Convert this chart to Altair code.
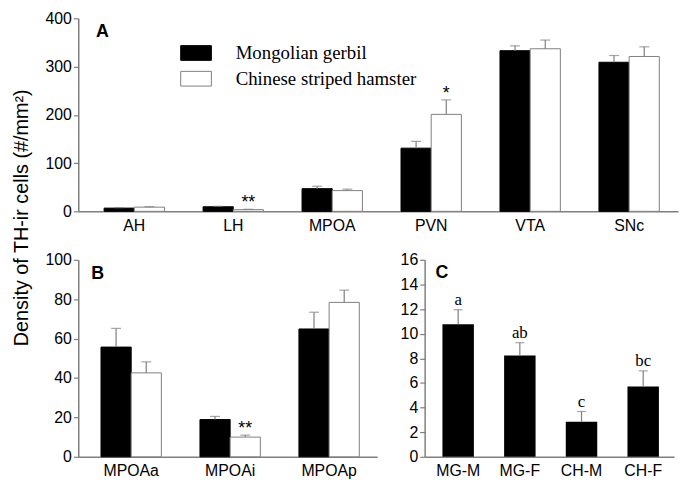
import altair as alt
import pandas as pd

SANS = "Liberation Sans"
SERIF = "Liberation Serif"
GREY = "#7f7f7f"

species = ["Mongolian gerbil", "Chinese striped hamster"]

# Panel A
regions = ["AH", "LH", "MPOA", "PVN", "VTA", "SNc"]
a_gerbil = [6.7, 9.5, 47, 131, 333, 309]
a_gerbil_err = [1.0, 1.0, 5, 14, 10, 14]
a_hamster = [8.7, 3.5, 43, 201, 337, 321]
a_hamster_err = [1.0, 0.8, 3, 30, 18, 20]
a_hamster_sig = ["", "**", "", "*", "", ""]
a_ticks = [0, 100, 200, 300, 400]

# Panel B
subregions = ["MPOAa", "MPOAi", "MPOAp"]
b_gerbil = [55.7, 18.9, 64.9]
b_gerbil_err = [9.5, 1.6, 8.5]
b_hamster = [42.6, 10.0, 78.4]
b_hamster_err = [5.6, 1.0, 6.2]
b_hamster_sig = ["", "**", ""]
b_ticks = [0, 20, 40, 60, 80, 100]

# Panel C
groups = ["MG-M", "MG-F", "CH-M", "CH-F"]
c_values = [10.77, 8.22, 2.84, 5.72]
c_err = [1.18, 1.05, 0.84, 1.26]
c_letters = ["a", "ab", "c", "bc"]
c_ticks = [0, 2, 4, 6, 8, 10, 12, 14, 16]

Y_TITLE = "Density of TH-ir cells (#/mm\u00b2)"


def make_df(cats, g, ge, h, he, hs):
    rows = []
    for i, c in enumerate(cats):
        rows.append(dict(cat=c, species=species[0], value=g[i], upper=g[i] + ge[i], sig=""))
        rows.append(dict(cat=c, species=species[1], value=h[i], upper=h[i] + he[i], sig=hs[i]))
    return pd.DataFrame(rows)


def x_axis():
    return alt.Axis(labelAngle=0, ticks=False, labelPadding=6, domainColor=GREY,
                    domainWidth=1.5, labelFontSize=16, labelFont=SANS,
                    labelColor="black", title=None, grid=False)


def y_axis(ticks, ext):
    return alt.Axis(values=ticks, title=None, grid=False, domainColor=GREY,
                    domainWidth=1.5, tickColor=GREY, tickWidth=1.2, tickSize=5,
                    labelPadding=2, labelFontSize=16, labelFont=SANS,
                    labelColor="black", labelOverlap=False, labelSeparation=0,
                    minExtent=ext, maxExtent=ext)


def letter(txt, px, py):
    return alt.Chart(pd.DataFrame({"t": [txt]})).mark_text(
        align="left", baseline="middle", fontWeight="bold", fontSize=18,
        font=SANS, color="black").encode(x=alt.value(px), y=alt.value(py), text="t:N")


def grouped(df, cats, ticks, width, height, pi, po, align, ext, lettertxt, lx, ly, legend):
    x = alt.X("cat:N", sort=cats, scale=alt.Scale(paddingInner=pi, paddingOuter=po, align=align), axis=x_axis())
    xo = alt.XOffset("species:N", sort=species, scale=alt.Scale(paddingInner=0, paddingOuter=0))
    yscale = alt.Scale(domain=[ticks[0], ticks[-1]], nice=False)
    yax = y_axis(ticks, ext)
    if legend:
        leg = alt.Legend(orient="none", legendX=103, legendY=19, title=None,
                         symbolType="M-1,-0.48H1V0.48H-1Z", symbolSize=961,
                         symbolStrokeColor=GREY, symbolStrokeWidth=1, symbolOpacity=1,
                         labelFont=SERIF, labelFontSize=19, labelOffset=24,
                         labelColor="black", rowPadding=-7, padding=0, labelLimit=400)
    else:
        leg = None
    fill = alt.Fill("species:N", sort=species,
                    scale=alt.Scale(domain=species, range=["black", "white"]), legend=leg)
    stroke = alt.Stroke("species:N", sort=species,
                        scale=alt.Scale(domain=species, range=["black", GREY]), legend=None)
    base = alt.Chart(df)
    bars = base.mark_bar(strokeWidth=1).encode(
        x=x, xOffset=xo, y=alt.Y("value:Q", scale=yscale, axis=yax), fill=fill, stroke=stroke)
    rules = base.mark_rule(color=GREY, strokeWidth=1.2).encode(
        x=x, xOffset=xo, y=alt.Y("value:Q", scale=yscale, axis=yax), y2="upper:Q")
    caps = base.mark_tick(color=GREY, size=10, thickness=1.2, orient="horizontal").encode(
        x=x, xOffset=xo, y=alt.Y("upper:Q", scale=yscale, axis=yax))
    sig = base.mark_text(font=SANS, fontSize=18, baseline="alphabetic", dy=-1, color="black").encode(
        x=x, xOffset=xo, y=alt.Y("upper:Q", scale=yscale, axis=yax), text="sig:N")
    return alt.layer(bars, rules, caps, sig, letter(lettertxt, lx, ly)).properties(width=width, height=height)


dfa = make_df(regions, a_gerbil, a_gerbil_err, a_hamster, a_hamster_err, a_hamster_sig)
dfb = make_df(subregions, b_gerbil, b_gerbil_err, b_hamster, b_hamster_err, b_hamster_sig)

chart_a = grouped(dfa, regions, a_ticks, 606, 195, 0.39, 0.225, 0.58, 39, "A", 18, 14, True)
chart_b = grouped(dfb, subregions, b_ticks, 302, 199, 0.39, 0.205, 0.56, 43, "B", 13, 14, False)

dfc = pd.DataFrame({"cat": groups, "value": c_values,
                    "upper": [v + e for v, e in zip(c_values, c_err)], "lab": c_letters})
xc = alt.X("cat:N", sort=groups, scale=alt.Scale(paddingInner=0.49, paddingOuter=0.267, align=0.54), axis=x_axis())
yc_scale = alt.Scale(domain=[0, 16], nice=False)
yc_axis = y_axis(c_ticks, 28)
basec = alt.Chart(dfc)
c_bars = basec.mark_bar(color="black").encode(
    x=xc, y=alt.Y("value:Q", scale=yc_scale, axis=yc_axis))
c_rules = basec.mark_rule(color=GREY, strokeWidth=1.2).encode(
    x=xc, y=alt.Y("value:Q", scale=yc_scale, axis=yc_axis), y2="upper:Q")
c_caps = basec.mark_tick(color=GREY, size=9, thickness=1.2, orient="horizontal").encode(
    x=xc, y=alt.Y("upper:Q", scale=yc_scale, axis=yc_axis))
c_text = basec.mark_text(font=SERIF, fontSize=17, baseline="alphabetic", dy=-5, color="black").encode(
    x=xc, y=alt.Y("upper:Q", scale=yc_scale, axis=yc_axis), text="lab:N")
chart_c = alt.layer(c_bars, c_rules, c_caps, c_text, letter("C", 11, 13)).properties(width=252, height=199)

chart = alt.vconcat(
    chart_a,
    alt.hconcat(chart_b, chart_c, spacing=20),
    spacing=19,
).properties(
    title=alt.TitleParams(Y_TITLE, orient="left", anchor="middle", font=SANS,
                          fontSize=20, fontWeight="normal", color="black", offset=4, dx=27),
    padding={"left": 3, "top": 0, "right": 2, "bottom": 0},
).configure_view(stroke=None).configure_axisY(labelOverlap=False).resolve_scale(fill="independent", stroke="independent")

chart.save("out.html", embed_options={"renderer": "svg", "actions": False})
